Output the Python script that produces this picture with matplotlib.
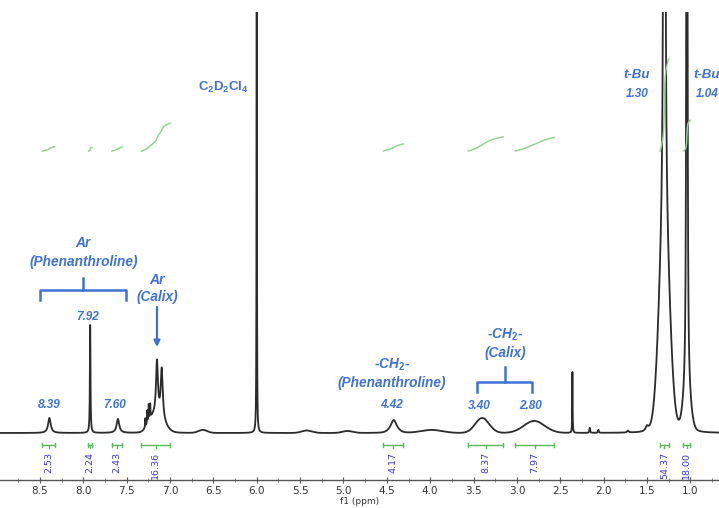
import numpy as np
import matplotlib.pyplot as plt
from matplotlib.ticker import MultipleLocator, FormatStrFormatter

plt.rcParams["mathtext.fontset"] = "custom"
plt.rcParams["mathtext.rm"] = "Liberation Sans:bold"
plt.rcParams["mathtext.it"] = "Liberation Sans:bold:italic"

# ---- spectrum window ----
ppm_left, ppm_right = 8.96, 0.67

# Sharp / resolved lines (Lorentzian): position (ppm), height, half-width (ppm)
lor_ppm    = [8.39, 7.92, 7.60, 7.150, 7.095, 7.285, 7.262, 7.245, 7.228,
              6.00, 4.42, 2.36, 2.16, 2.06, 1.72, 1.50, 1.30, 1.04]
lor_height = [15, 108, 14, 54, 50, 9, 13, 16, 14,
              900, 9, 61, 5, 3, 2, 5, 3000, 2000]
lor_width  = [0.018, 0.004, 0.018, 0.013, 0.014, 0.003, 0.003, 0.003, 0.003,
              0.0018, 0.035, 0.0025, 0.005, 0.005, 0.01, 0.02, 0.005, 0.004]

# Broad humps (Gaussian): position (ppm), height, sigma (ppm)
gau_ppm    = [7.13, 7.22, 6.62, 5.42, 4.95, 4.42, 3.98, 3.40, 2.80, 1.30, 1.04]
gau_height = [14, 8, 3, 2.5, 2, 4, 3, 15, 12, 200, 40]
gau_sigma  = [0.07, 0.05, 0.05, 0.06, 0.06, 0.05, 0.12, 0.08, 0.12, 0.06, 0.04]

# Integration regions (ppm from, ppm to) and integral values
int_from   = [8.47, 7.94, 7.67, 7.33, 4.54, 3.56, 3.02, 1.35, 1.08]
int_to     = [8.33, 7.90, 7.55, 7.00, 4.31, 3.16, 2.57, 1.25, 1.00]
int_values = [2.53, 2.24, 2.43, 16.36, 4.17, 8.37, 7.97, 54.37, 18.00]

# Peak labels (chemical shift values)
shift_labels = ["8.39", "7.92", "7.60", "4.42", "3.40", "2.80", "1.30", "1.04"]

# ---- build the trace ----
ppm = np.linspace(ppm_right, ppm_left, 30000)
spec = np.zeros_like(ppm)
for c, h, w in zip(lor_ppm, lor_height, lor_width):
    spec += h / (1 + ((ppm - c) / w) ** 2)
for c, h, s in zip(gau_ppm, gau_height, gau_sigma):
    spec += h * np.exp(-0.5 * ((ppm - c) / s) ** 2)

W, H = 719, 508
fig = plt.figure(figsize=(W / 100, H / 100), dpi=100)
ax = fig.add_axes([0, 28 / H, 1, (480 - 12) / H])
ax.set_xlim(ppm_left, ppm_right)
ax.set_ylim(-47, 421)

ax.plot(ppm, spec, color="#2b2b2b", lw=1.3, zorder=3)

# ---- integrals ----
green_curve = "#93d493"
green_bar = "#5cb85c"
int_scale = 1.7
int_base = 282
int_offset = 8          # residual baseline picked up by the integrator
for a, b, v in zip(int_from, int_to, int_values):
    m = (ppm <= a) & (ppm >= b)
    x = ppm[m][::-1]
    y = spec[m][::-1] + int_offset
    cum = np.concatenate([[0], np.cumsum(0.5 * (y[1:] + y[:-1]) * np.abs(np.diff(x)))])
    cum = cum / cum[-1]
    ax.plot(x, int_base + cum * v * int_scale, color=green_curve, lw=1.1, zorder=4)

    # bracket under the trace
    yb = -12
    ax.plot([a, b], [yb, yb], color=green_bar, lw=1, zorder=4)
    for e in (a, b):
        ax.plot([e, e], [yb - 2, yb + 2], color=green_bar, lw=1, zorder=4)
    mid = 0.5 * (a + b)
    ax.plot([mid, mid], [yb, yb - 3], color=green_bar, lw=1, zorder=4)
    ax.text(mid, yb - 7, f"{v:.2f}", rotation=90, ha="center", va="top",
            fontsize=6.8, color="#3a3ac8", family="DejaVu Sans")

# ---- annotations ----
blue = "#3e72d6"
af = dict(family="Liberation Sans", weight="bold", style="italic", color=blue)

def label(x, y, s, size=9.5):
    ax.text(x, y, s, ha="center", va="center", fontsize=size, zorder=5, **af)

# Ar (Phenanthroline)
label(8.00, 190, "Ar", 10)
label(8.00, 171, "(Phenanthroline)", 9.8)
ax.plot([8.00, 8.00], [155, 143], color=blue, lw=1.8)
ax.plot([8.50, 8.50, 7.508, 7.508], [133, 143, 143, 133], color=blue, lw=1.8)

label(7.946, 116, shift_labels[1], 8.5)
label(8.396, 28, shift_labels[0], 8.5)
label(7.635, 28, shift_labels[2], 8.5)

# Ar (Calix)
label(7.15, 153, "Ar", 10)
label(7.15, 136, "(Calix)", 9.8)
ax.annotate("", xy=(7.15, 86), xytext=(7.15, 126),
            arrowprops=dict(arrowstyle="-|>", color=blue, lw=1.6,
                            mutation_scale=9, shrinkA=0, shrinkB=0))

# -CH2- (Phenanthroline)
label(4.44, 68, r"-CH$_2$-", 9.8)
label(4.44, 50, "(Phenanthroline)", 9.8)
label(4.44, 28, shift_labels[3], 8.5)

# -CH2- (Calix)
label(3.137, 98, r"-CH$_2$-", 9.8)
label(3.137, 80, "(Calix)", 9.8)
ax.plot([3.137, 3.137], [66, 51], color=blue, lw=1.8)
ax.plot([3.46, 3.46, 2.825, 2.825], [41, 51, 51, 41], color=blue, lw=1.8)
label(3.437, 27, shift_labels[4], 8.5)
label(2.837, 27, shift_labels[5], 8.5)

# solvent
ax.text(6.389, 346, r"C$_2$D$_2$Cl$_4$", ha="center", va="center",
        fontsize=9.5, color=blue, weight="bold", family="Liberation Sans")

# t-Bu
label(1.614, 358, "t-Bu", 9.5)
label(1.614, 339, shift_labels[6], 8.5)
label(0.807, 358, "t-Bu", 9.5)
label(0.807, 339, shift_labels[7], 8.5)

# ---- axis styling ----
for s in ("left", "right", "top"):
    ax.spines[s].set_visible(False)
ax.spines["bottom"].set_color("#555555")
ax.spines["bottom"].set_linewidth(1.0)
ax.set_yticks([])
ax.xaxis.set_major_locator(MultipleLocator(0.5))
ax.xaxis.set_minor_locator(MultipleLocator(0.25))
ax.xaxis.set_major_formatter(FormatStrFormatter("%.1f"))
ax.tick_params(axis="x", which="major", direction="inout", length=4, width=0.8,
               color="#555555", labelsize=7.5, labelcolor="#333333", pad=2)
ax.tick_params(axis="x", which="minor", direction="inout", length=3, width=0.6,
               color="#777777")
ax.set_xlabel("f1 (ppm)", fontsize=6.5, color="#333333", labelpad=1)
ax.patch.set_alpha(0)

fig.savefig("out.png", dpi=100)
